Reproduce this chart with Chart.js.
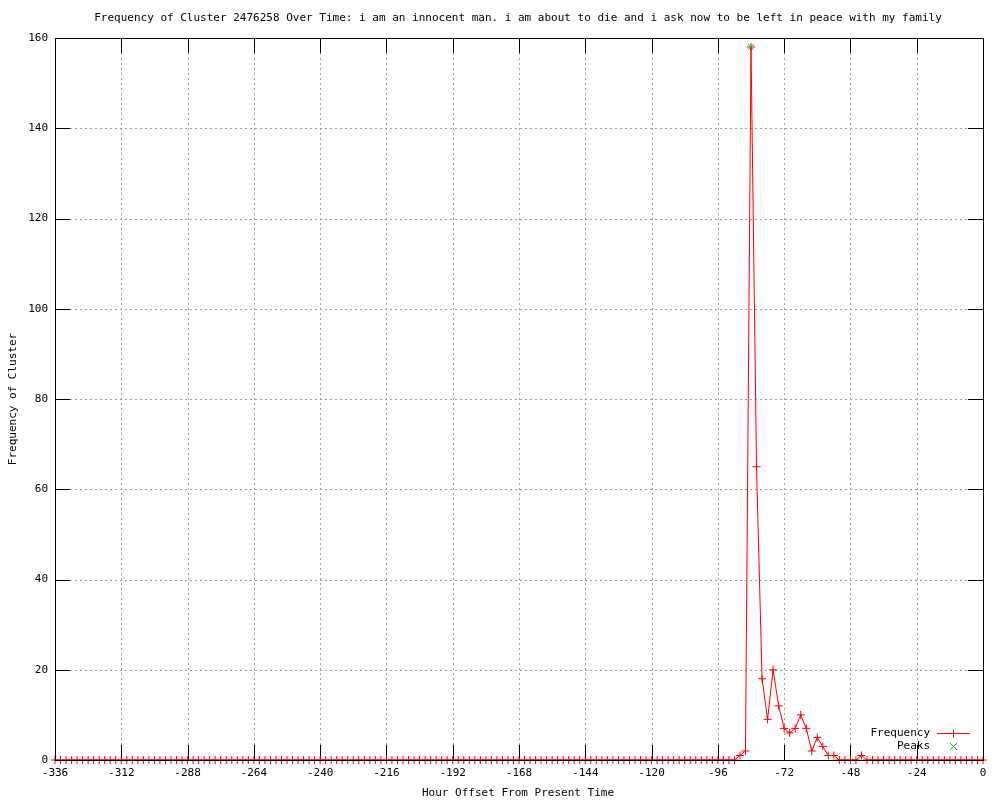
<!DOCTYPE html>
<html><head><meta charset="utf-8">
<script src="https://cdn.jsdelivr.net/npm/chart.js@4/dist/chart.umd.min.js"></script>
<style>html,body{margin:0;padding:0;background:#fff}#wrap{width:1000px;height:800px}canvas{display:block}</style>
</head><body><div id="wrap"><canvas id="c" width="1000" height="800"></canvas></div>
<script>
const titleText = "Frequency of Cluster 2476258 Over Time: i am an innocent man. i am about to die and i ask now to be left in peace with my family";
const xAxisTitle = "Hour Offset From Present Time";
const yAxisTitle = "Frequency of Cluster";

const hours = [
-336,-334,-332,-330,-328,-326,-324,-322,-320,-318,-316,-314,-312,
-310,-308,-306,-304,-302,-300,-298,-296,-294,-292,-290,-288,
-286,-284,-282,-280,-278,-276,-274,-272,-270,-268,-266,-264,
-262,-260,-258,-256,-254,-252,-250,-248,-246,-244,-242,-240,
-238,-236,-234,-232,-230,-228,-226,-224,-222,-220,-218,-216,
-214,-212,-210,-208,-206,-204,-202,-200,-198,-196,-194,-192,
-190,-188,-186,-184,-182,-180,-178,-176,-174,-172,-170,-168,
-166,-164,-162,-160,-158,-156,-154,-152,-150,-148,-146,-144,
-142,-140,-138,-136,-134,-132,-130,-128,-126,-124,-122,-120,
-118,-116,-114,-112,-110,-108,-106,-104,-102,-100,-98,-96,
-94,-92,-90,-88,-86,-84,-82,-80,-78,-76,-74,-72,
-70,-68,-66,-64,-62,-60,-58,-56,-54,-52,-50,-48,
-46,-44,-42,-40,-38,-36,-34,-32,-30,-28,-26,-24,
-22,-20,-18,-16,-14,-12,-10,-8,-6,-4,-2,0
];
const frequency = [
0,0,0,0,0,0,0,0,0,0,0,0,0,
0,0,0,0,0,0,0,0,0,0,0,0,
0,0,0,0,0,0,0,0,0,0,0,0,
0,0,0,0,0,0,0,0,0,0,0,0,
0,0,0,0,0,0,0,0,0,0,0,0,
0,0,0,0,0,0,0,0,0,0,0,0,
0,0,0,0,0,0,0,0,0,0,0,0,
0,0,0,0,0,0,0,0,0,0,0,0,
0,0,0,0,0,0,0,0,0,0,0,0,
0,0,0,0,0,0,0,0,0,0,0,0,
0,0,0,1,2,158,65,18,9,20,12,7,
6,7,10,7,2,5,3,1,1,0,0,0,
0,1,0,0,0,0,0,0,0,0,0,0,
0,0,0,0,0,0,0,0,0,0,0,0
];
const peakHours = [-84];
const peakValues = [158];
const xTicks = [-336,-312,-288,-264,-240,-216,-192,-168,-144,-120,-96,-72,-48,-24,0];
const yTicks = [0,20,40,60,80,100,120,140,160];

const FONT = "DejaVu Sans Mono";
const RED = "#ff0000";
const GREEN = "#00c000";

const gnuplotDecor = {
  id: 'gnuplotDecor',
  beforeDatasetsDraw(chart) {
    const ctx = chart.ctx, a = chart.chartArea;
    const xs = chart.scales.x, ys = chart.scales.y;
    ctx.save();
    ctx.lineWidth = 1;
    ctx.strokeStyle = '#a0a0a0';
    ctx.setLineDash([2, 3]);
    xTicks.forEach(v => {
      if (v === xs.min || v === xs.max) return;
      const px = Math.round(xs.getPixelForValue(v)) + 0.5;
      ctx.beginPath(); ctx.moveTo(px, a.top); ctx.lineTo(px, a.bottom); ctx.stroke();
    });
    yTicks.forEach(v => {
      if (v === ys.min || v === ys.max) return;
      const py = Math.round(ys.getPixelForValue(v)) + 0.5;
      ctx.beginPath(); ctx.moveTo(a.left, py); ctx.lineTo(a.right, py); ctx.stroke();
    });
    ctx.setLineDash([]);
    ctx.strokeStyle = '#000';
    const TL = 15;
    xTicks.forEach(v => {
      const px = Math.round(xs.getPixelForValue(v)) + 0.5;
      ctx.beginPath(); ctx.moveTo(px, a.bottom); ctx.lineTo(px, a.bottom - TL); ctx.stroke();
      ctx.beginPath(); ctx.moveTo(px, a.top); ctx.lineTo(px, a.top + TL); ctx.stroke();
    });
    yTicks.forEach(v => {
      const py = Math.round(ys.getPixelForValue(v)) + 0.5;
      ctx.beginPath(); ctx.moveTo(a.left, py); ctx.lineTo(a.left + TL, py); ctx.stroke();
      ctx.beginPath(); ctx.moveTo(a.right, py); ctx.lineTo(a.right - TL, py); ctx.stroke();
    });
    ctx.restore();
  },
  afterDatasetsDraw(chart) {
    const ctx = chart.ctx, a = chart.chartArea;
    ctx.save();
    ctx.strokeStyle = '#000';
    ctx.lineWidth = 1;
    ctx.strokeRect(Math.round(a.left) + 0.5, Math.round(a.top) + 0.5,
                   Math.round(a.right - a.left), Math.round(a.bottom - a.top));
    ctx.restore();
  },
  afterDraw(chart) {
    const ctx = chart.ctx, a = chart.chartArea;
    ctx.save();
    ctx.fillStyle = '#000';
    ctx.font = '11px "' + FONT + '"';
    ctx.textBaseline = 'middle';
    ctx.textAlign = 'center';
    const cx = (a.left + a.right) / 2;
    ctx.fillText(titleText, cx - 1, 18);
    ctx.fillText(xAxisTitle, cx - 1, 793);
    ctx.save();
    ctx.translate(13, (a.top + a.bottom) / 2);
    ctx.rotate(-Math.PI / 2);
    ctx.fillText(yAxisTitle, 0, 0);
    ctx.restore();
    // legend
    const ds = chart.data.datasets;
    ctx.textAlign = 'right';
    ctx.fillText(ds[0].label, 930, 733);
    ctx.fillText(ds[1].label, 930, 746);
    ctx.strokeStyle = RED;
    ctx.lineWidth = 1;
    ctx.beginPath(); ctx.moveTo(937, 733.5); ctx.lineTo(970, 733.5); ctx.stroke();
    ctx.beginPath(); ctx.moveTo(953.5, 729.5); ctx.lineTo(953.5, 737.5); ctx.stroke();
    ctx.strokeStyle = GREEN;
    ctx.beginPath();
    ctx.moveTo(950, 743); ctx.lineTo(957, 750);
    ctx.moveTo(957, 743); ctx.lineTo(950, 750);
    ctx.stroke();
    ctx.restore();
  }
};

new Chart(document.getElementById('c'), {
  type: 'line',
  data: {
    datasets: [
      {
        label: 'Frequency',
        data: hours.map((h, i) => ({x: h, y: frequency[i]})),
        borderColor: RED,
        backgroundColor: RED,
        borderWidth: 1,
        pointStyle: 'cross',
        pointRadius: 4,
        pointBorderWidth: 1,
        pointBorderColor: RED,
        tension: 0,
        clip: false,
        order: 2
      },
      {
        label: 'Peaks',
        data: peakHours.map((h, i) => ({x: h, y: peakValues[i]})),
        showLine: false,
        pointStyle: 'crossRot',
        pointRadius: 4,
        pointBorderWidth: 1,
        pointBorderColor: GREEN,
        borderColor: GREEN,
        backgroundColor: GREEN,
        clip: false,
        order: 1
      }
    ]
  },
  options: {
    responsive: false,
    devicePixelRatio: 1,
    animation: false,
    events: [],
    layout: { padding: { top: 38, right: 17, left: 0, bottom: 0 } },
    plugins: { legend: { display: false }, title: { display: false }, tooltip: { enabled: false } },
    scales: {
      x: {
        type: 'linear',
        min: -336, max: 0,
        afterBuildTicks: s => { s.ticks = xTicks.map(v => ({value: v})); },
        afterFit: s => { s.height = 40; },
        grid: { display: false, drawTicks: false },
        border: { display: false },
        ticks: {
          color: '#000', padding: 7, maxRotation: 0, autoSkip: false,
          font: { family: FONT, size: 11 },
          callback: v => String(v)
        }
      },
      y: {
        type: 'linear',
        min: 0, max: 160,
        afterBuildTicks: s => { s.ticks = yTicks.map(v => ({value: v})); },
        afterFit: s => { s.width = 55; },
        grid: { display: false, drawTicks: false },
        border: { display: false },
        ticks: {
          color: '#000', padding: 7,
          font: { family: FONT, size: 11 },
          callback: v => String(v)
        }
      }
    }
  },
  plugins: [gnuplotDecor]
});
</script>
</body></html>
